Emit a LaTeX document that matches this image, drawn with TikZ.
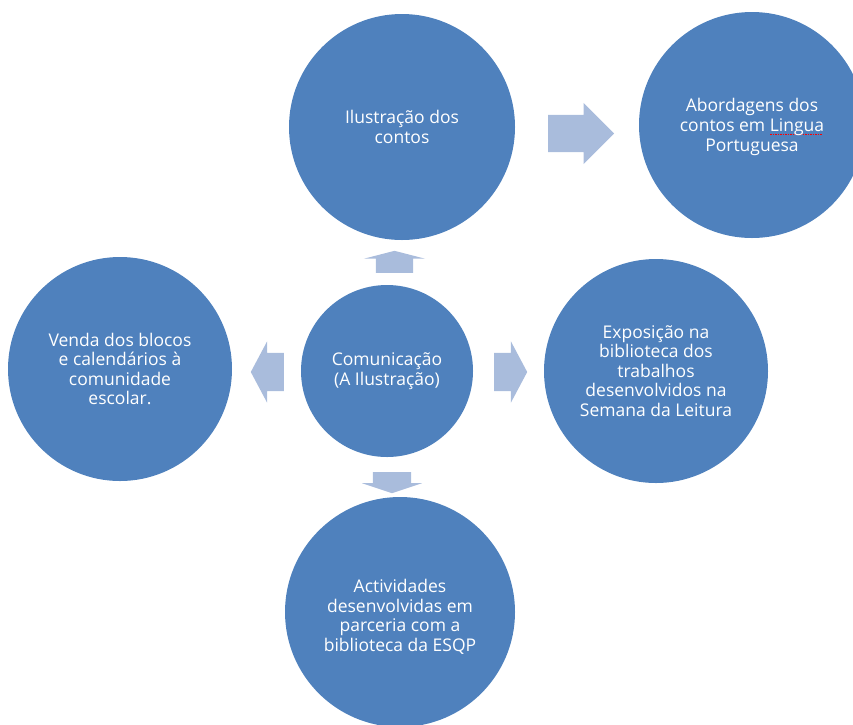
\documentclass[tikz,border=0pt]{standalone}
\usepackage{fontspec}
\setmainfont{Open Sans}
\usetikzlibrary{shapes.arrows}

\definecolor{circleblue}{HTML}{4F81BD}
\definecolor{arrowblue}{HTML}{A9BCDC}

% sublinhado vermelho do corrector
\newcommand\spellwave[1]{%
    \setbox0\hbox{#1}%
    \rlap{\textcolor{red}{\lower3pt\hbox to\wd0{%
        \leaders\hbox to 2.5pt{\hss\vrule width 1.2pt height 0.9pt depth 0pt\hss}\hfil}}}%
    \box0}

\begin{document}
\begin{tikzpicture}[
        x=1pt, y=-1pt,
        every node/.style={
            font=\fontsize{17.5}{19.6}\selectfont
        },
        topic/.style={
            circle,
            fill=circleblue,
            text=white,
            align=center,
            inner sep=0pt
        },
        topictext/.style={
            text=white,
            align=center,
            inner sep=0pt
        },
        blockarrow/.style={
            single arrow,
            fill=arrowblue,
            inner xsep=0pt,
            inner ysep=18.5pt,
            single arrow head extend=12pt,
            anchor=tail
        }
    ]
    \useasboundingbox (0,0) rectangle (853,724);

    % Círculos
    \node[topic, minimum size=172pt] (comunic) at (387,371)
        {Comunicação\\(A Ilustração)};
    \node[topic, minimum size=226pt] (ilustr) at (402,127)
        {Ilustração dos\\contos};
    \node[topic, minimum size=226pt] (abord) at (752,125)
        {};
    \node[topictext] (abordtxt) at (752,127)
        {Abordagens dos\\contos em \spellwave{Lingua}\\Portuguesa};
    \node[topic, minimum size=224pt] (venda) at (120,369)
        {Venda dos blocos\\e calendários à\\comunidade\\escolar.};
    \node[topic, minimum size=224pt] (expos) at (656,371)
        {Exposição na\\biblioteca dos\\trabalhos\\desenvolvidos na\\Semana da Leitura};
    \node[topic, minimum size=230pt] (activ) at (400,612)
        {};
    \node[topictext] (activtxt) at (400,617)
        {Actividades\\desenvolvidas em\\parceria com a\\biblioteca da ESQP};

    % Setas
    \node[blockarrow, minimum height=66pt, single arrow tip angle=90]
        (arrAbord) at (548,133.5) {};
    \node[blockarrow, rotate=90, minimum height=22pt, single arrow tip angle=151]
        (arrIlustr) at (394.5,273) {};
    \node[blockarrow, rotate=180, minimum height=33pt, inner ysep=19pt,
        single arrow head extend=11.5pt, single arrow tip angle=124]
        (arrVenda) at (284,372) {};
    \node[blockarrow, minimum height=33pt, inner ysep=19pt,
        single arrow head extend=11.5pt, single arrow tip angle=124]
        (arrExpos) at (494,372) {};
    \node[blockarrow, rotate=-90, minimum height=21pt, inner ysep=19pt,
        single arrow head extend=11pt, single arrow tip angle=143]
        (arrActiv) at (392,472) {};

\end{tikzpicture}
\end{document}
